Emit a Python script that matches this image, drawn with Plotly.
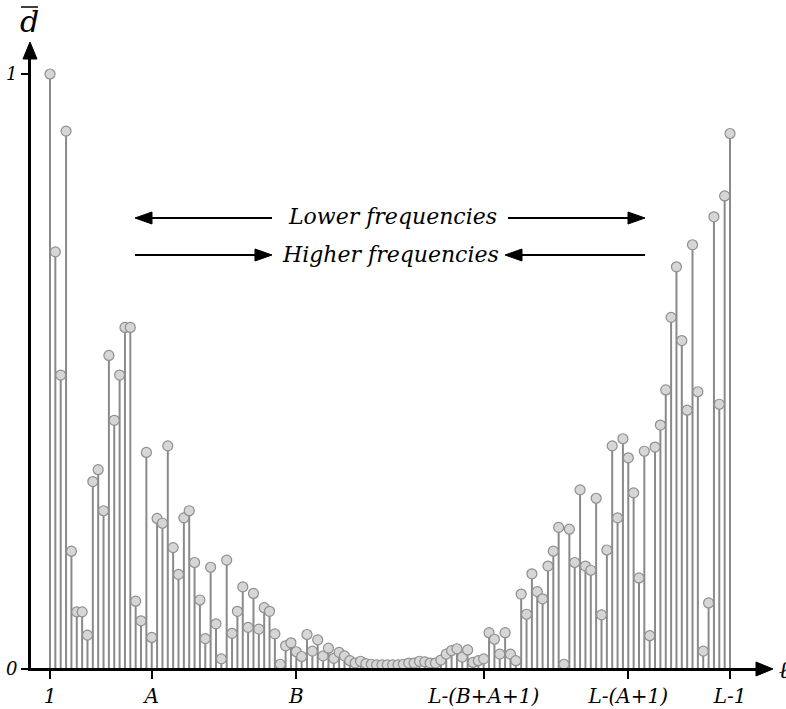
import plotly.graph_objects as go

# ---------------- data ----------------
indices = list(range(1, 129))
dbar = [
    1.000, 0.701, 0.494, 0.904, 0.198, 0.096, 0.096, 0.057, 0.315, 0.335,
    0.266, 0.527, 0.418, 0.494, 0.574, 0.574, 0.114, 0.081, 0.364, 0.053,
    0.253, 0.245, 0.375, 0.204, 0.159, 0.254, 0.266, 0.179, 0.116, 0.051,
    0.171, 0.076, 0.017, 0.183, 0.060, 0.097, 0.138, 0.070, 0.127, 0.067,
    0.103, 0.097, 0.059, 0.008, 0.039, 0.044, 0.029, 0.021, 0.058, 0.030,
    0.049, 0.022, 0.035, 0.018, 0.028, 0.022, 0.014, 0.010, 0.013, 0.009,
    0.008, 0.007, 0.007, 0.007, 0.007, 0.007, 0.008, 0.010, 0.010, 0.013,
    0.012, 0.010, 0.010, 0.015, 0.025, 0.031, 0.034, 0.020, 0.032, 0.011,
    0.014, 0.017, 0.061, 0.050, 0.025, 0.061, 0.025, 0.014, 0.126, 0.092,
    0.160, 0.130, 0.118, 0.173, 0.198, 0.238, 0.008, 0.235, 0.179, 0.301,
    0.173, 0.166, 0.287, 0.091, 0.200, 0.375, 0.254, 0.387, 0.355, 0.296,
    0.153, 0.366, 0.056, 0.373, 0.410, 0.469, 0.591, 0.676, 0.552, 0.435,
    0.713, 0.466, 0.030, 0.111, 0.760, 0.445, 0.795, 0.900,
]
x_tick_vals = [1, 20, 47, 82, 109, 128]
x_tick_text = ["1", "A", "B", "L-(B+A+1)", "L-(A+1)", "L-1"]
y_tick_vals = [0, 1]
y_tick_text = ["0", "1"]

# ---------------- layout geometry ----------------
W, H = 786, 709
ML, MR, MT, MB = 30, 16, 45, 40
PW, PH = W - ML - MR, H - MT - MB
px_per_unit = (730 - 50) / 127.0
XMIN = 1 - (50 - ML) / px_per_unit
XMAX = XMIN + PW / px_per_unit
YMAX = (669 - MT) / 595.0


def px2paper(px, py):
    return (px - ML) / PW, (H - MB - py) / PH


FONT = "DejaVu Serif"
STEM = "#8a8a8a"

# stems
sx, sy = [], []
for xi, v in zip(indices, dbar):
    sx += [xi, xi, None]
    sy += [0, v, None]

fig = go.Figure()
fig.add_trace(go.Scatter(x=sx, y=sy, mode="lines",
                         line=dict(color=STEM, width=2), hoverinfo="skip",
                         showlegend=False))
fig.add_trace(go.Scatter(x=indices, y=dbar, mode="markers",
                         marker=dict(size=10, color="#d6d6d6",
                                     line=dict(color="#8f8f8f", width=1.2)),
                         showlegend=False))

shapes = []
annotations = []


def tri(tip, direction, length=17, half=6):
    tx, ty = tip
    if direction == "right":
        pts = [(tx, ty), (tx - length, ty - half), (tx - length, ty + half)]
    elif direction == "left":
        pts = [(tx, ty), (tx + length, ty - half), (tx + length, ty + half)]
    else:  # up
        pts = [(tx, ty), (tx - half, ty + length), (tx + half, ty + length)]
    p = [px2paper(a, b) for a, b in pts]
    path = "M {:.5f},{:.5f} L {:.5f},{:.5f} L {:.5f},{:.5f} Z".format(
        p[0][0], p[0][1], p[1][0], p[1][1], p[2][0], p[2][1])
    shapes.append(dict(type="path", path=path, xref="paper", yref="paper",
                       fillcolor="black", line=dict(color="black", width=1),
                       layer="above"))


def seg(x0, y0, x1, y1, width=2):
    a = px2paper(x0, y0)
    b = px2paper(x1, y1)
    shapes.append(dict(type="line", xref="paper", yref="paper",
                       x0=a[0], y0=a[1], x1=b[0], y1=b[1],
                       line=dict(color="black", width=width)))


def label(px, py, text, size, xanchor="center"):
    p = px2paper(px, py)
    annotations.append(dict(x=p[0], y=p[1], xref="paper", yref="paper",
                            xanchor=xanchor, yanchor="middle",
                            text=text, showarrow=False,
                            font=dict(family=FONT, size=size, color="black",
                                      style="italic")))


# axis arrowheads + extensions
tri((773, 669), "right", length=17, half=7)
tri((30, 42), "up", length=17, half=7)
seg(30, 669, 760, 669)
seg(30, 669, 30, 55)

# frequency arrows
seg(140, 218, 272, 218)
tri((135, 218), "left")
seg(508, 218, 640, 218)
tri((645, 218), "right")
seg(135, 255, 267, 255)
tri((272, 255), "right")
seg(510, 255, 645, 255)
tri((505, 255), "left")

# d-bar label
seg(21, 7, 38, 7, width=1.5)
label(29, 22, "d", 30)
label(777, 670, "ℓ", 24, xanchor="left")

label(392, 216, "Lower frequencies", 22)
label(390, 254, "Higher frequencies", 22)

fig.update_layout(
    width=W, height=H,
    margin=dict(l=ML, r=MR, t=MT, b=MB, pad=0, autoexpand=False),
    plot_bgcolor="white", paper_bgcolor="white",
    shapes=shapes, annotations=annotations,
    xaxis=dict(range=[XMIN, XMAX], showgrid=False, zeroline=False,
               automargin=False,
               showline=True, linecolor="black", linewidth=2,
               tickmode="array", tickvals=x_tick_vals,
               ticktext=x_tick_text,
               ticks="outside", ticklen=8, tickwidth=2, tickcolor="black",
               tickfont=dict(family=FONT, size=20, color="black",
                             style="italic")),
    yaxis=dict(range=[0, YMAX], showgrid=False, zeroline=False,
               automargin=False,
               showline=True, linecolor="black", linewidth=2,
               tickmode="array", tickvals=y_tick_vals,
               ticktext=y_tick_text,
               ticks="outside", ticklen=7, tickwidth=1.5, tickcolor="black",
               tickfont=dict(family=FONT, size=18, color="black",
                             style="italic")),
)

fig.write_html("out.html")
